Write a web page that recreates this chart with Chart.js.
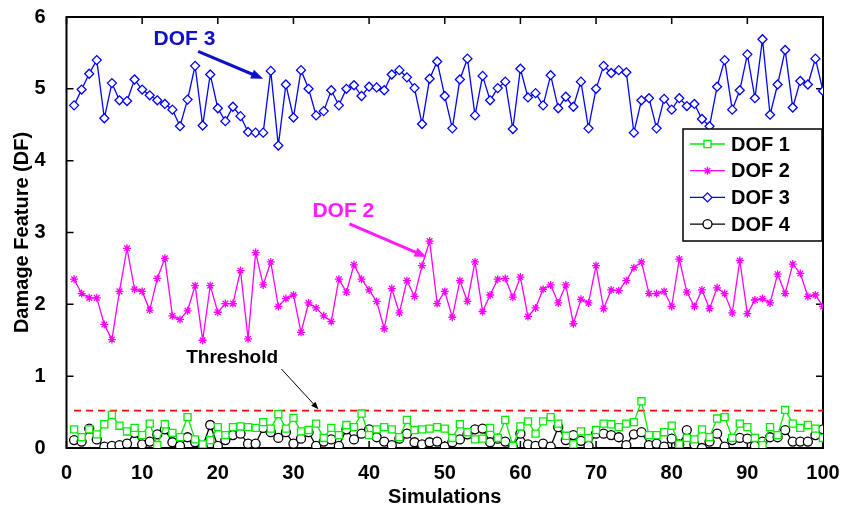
<!DOCTYPE html>
<html>
<head>
<meta charset="utf-8">
<script src="https://cdn.jsdelivr.net/npm/chart.js@4.4.1/dist/chart.umd.min.js"></script>
<style>
  html, body { margin: 0; padding: 0; background: #fff; }
</style>
</head>
<body>
<canvas id="df" width="842" height="512"></canvas>
<script>
// simulation index 1..100
const simulations = Array.from({ length: 100 }, (_, i) => i + 1);

const dof1 = [
  0.26, 0.15, 0.26, 0.19, 0.33, 0.46, 0.31, 0.23, 0.28, 0.18,
  0.34, 0.04, 0.33, 0.21, 0.15, 0.43, 0.12, 0.05, 0.11, 0.29,
  0.18, 0.29, 0.30, 0.29, 0.28, 0.36, 0.27, 0.47, 0.27, 0.42,
  0.23, 0.25, 0.34, 0.14, 0.28, 0.18, 0.32, 0.29, 0.48, 0.18,
  0.26, 0.29, 0.26, 0.15, 0.39, 0.25, 0.26, 0.27, 0.29, 0.27,
  0.14, 0.33, 0.22, 0.12, 0.13, 0.28, 0.14, 0.39, 0.03, 0.30,
  0.37, 0.20, 0.37, 0.43, 0.34, 0.17, 0.05, 0.23, 0.14, 0.25,
  0.34, 0.33, 0.29, 0.34, 0.36, 0.65, 0.18, 0.18, 0.22, 0.31,
  0.05, 0.14, 0.12, 0.26, 0.15, 0.41, 0.43, 0.14, 0.34, 0.29,
  0.14, 0.04, 0.29, 0.18, 0.53, 0.34, 0.28, 0.32, 0.27, 0.14
];

const dof2 = [
  2.35, 2.15, 2.09, 2.09, 1.72, 1.51, 2.18, 2.78, 2.21, 2.18,
  1.92, 2.36, 2.64, 1.84, 1.79, 1.91, 2.26, 1.50, 2.26, 1.89,
  2.01, 2.01, 2.47, 1.52, 2.72, 2.27, 2.59, 1.97, 2.08, 2.13,
  1.61, 2.02, 1.95, 1.84, 1.76, 2.35, 2.17, 2.55, 2.35, 2.20,
  2.04, 1.66, 2.22, 1.88, 2.33, 2.11, 2.54, 2.88, 2.01, 2.18,
  1.82, 2.33, 2.04, 2.59, 1.90, 2.13, 2.35, 2.36, 2.10, 2.38,
  1.83, 1.95, 2.21, 2.27, 2.02, 2.27, 1.73, 2.07, 2.02, 2.54,
  1.94, 2.20, 2.19, 2.33, 2.51, 2.59, 2.15, 2.15, 2.18, 1.97,
  2.63, 2.17, 1.97, 2.20, 1.94, 2.23, 2.15, 1.88, 2.61, 1.87,
  2.06, 2.08, 2.02, 2.42, 2.15, 2.56, 2.43, 2.11, 2.13, 1.97
];

const dof3 = [
  4.77, 4.99, 5.21, 5.40, 4.59, 5.08, 4.84, 4.83, 5.13, 4.99,
  4.91, 4.84, 4.79, 4.71, 4.48, 4.85, 5.32, 4.49, 5.20, 4.73,
  4.55, 4.75, 4.62, 4.40, 4.39, 4.39, 5.25, 4.21, 5.06, 4.60,
  5.26, 5.00, 4.63, 4.69, 4.98, 4.77, 5.00, 5.05, 4.90, 5.03,
  5.02, 4.98, 5.20, 5.26, 5.16, 5.01, 4.51, 5.14, 5.38, 4.90,
  4.45, 5.13, 5.42, 4.63, 5.18, 4.84, 5.01, 5.10, 4.44, 5.28,
  4.88, 4.94, 4.77, 5.19, 4.73, 4.89, 4.75, 5.10, 4.45, 5.00,
  5.32, 5.22, 5.26, 5.23, 4.39, 4.84, 4.87, 4.45, 4.86, 4.71,
  4.87, 4.76, 4.79, 4.58, 4.48, 5.03, 5.40, 4.71, 4.98, 5.48,
  4.87, 5.69, 4.64, 5.06, 5.54, 4.74, 5.11, 5.06, 5.42, 4.97
];

const dof4 = [
  0.11, 0.09, 0.27, 0.12, 0.02, 0.03, 0.04, 0.06, 0.21, 0.05,
  0.09, 0.19, 0.26, 0.08, 0.03, 0.15, 0.08, 0.02, 0.32, 0.03,
  0.11, 0.18, 0.20, 0.06, 0.06, 0.28, 0.22, 0.14, 0.22, 0.06,
  0.13, 0.22, 0.03, 0.09, 0.12, 0.03, 0.26, 0.12, 0.20, 0.26,
  0.15, 0.09, 0.04, 0.13, 0.20, 0.08, 0.05, 0.08, 0.09, 0.02,
  0.08, 0.12, 0.19, 0.26, 0.27, 0.08, 0.13, 0.09, 0.02, 0.20,
  0.05, 0.03, 0.06, 0.02, 0.29, 0.11, 0.18, 0.10, 0.03, 0.20,
  0.20, 0.18, 0.15, 0.04, 0.19, 0.22, 0.04, 0.06, 0.02, 0.13,
  0.05, 0.25, 0.05, 0.00, 0.09, 0.20, 0.02, 0.11, 0.14, 0.13,
  0.03, 0.09, 0.15, 0.15, 0.25, 0.09, 0.09, 0.09, 0.18, 0.26
];

const threshold = 0.52;
const thresholdSpan = [1, 100];

const xTicks = [0, 10, 20, 30, 40, 50, 60, 70, 80, 90, 100];
const yTicks = [0, 1, 2, 3, 4, 5, 6];

// callouts in data units: label centre, arrow tail, arrow tip
const notes = [
  { text: 'DOF 3', color: '#1010c8', at: [15.6, 5.69], from: [17.4, 5.52], to: [26.0, 5.14], width: 3, head: 13, size: 21 },
  { text: 'DOF 2', color: '#ff1aff', at: [36.6, 3.29], from: [37.4, 3.12], to: [47.6, 2.66], width: 3, head: 13, size: 21 },
  { text: 'Threshold', color: '#000000', at: [21.9, 1.25], from: [28.4, 1.10], to: [33.3, 0.54], width: 1, head: 8, size: 19 }
];

const FONT = '"Liberation Sans", Arial, sans-serif';

function points(values) {
  return values.map((v, i) => ({ x: simulations[i], y: v }));
}

function series(label, values, color, style, radius) {
  return {
    label,
    data: points(values),
    borderColor: color,
    borderWidth: 1.3,
    pointStyle: style,
    pointRadius: radius,
    pointBorderColor: color,
    pointBackgroundColor: '#ffffff',
    pointBorderWidth: 1.3,
    tension: 0,
    fill: false,
  };
}

function drawArrow(ctx, x1, y1, x2, y2, color, width, head) {
  const ang = Math.atan2(y2 - y1, x2 - x1);
  ctx.save();
  ctx.strokeStyle = color;
  ctx.fillStyle = color;
  ctx.lineWidth = width;
  ctx.beginPath();
  ctx.moveTo(x1, y1);
  ctx.lineTo(x2 - head * 0.8 * Math.cos(ang), y2 - head * 0.8 * Math.sin(ang));
  ctx.stroke();
  ctx.beginPath();
  ctx.moveTo(x2, y2);
  ctx.lineTo(x2 - head * Math.cos(ang - 0.38), y2 - head * Math.sin(ang - 0.38));
  ctx.lineTo(x2 - head * Math.cos(ang + 0.38), y2 - head * Math.sin(ang + 0.38));
  ctx.closePath();
  ctx.fill();
  ctx.restore();
}

function drawMarker(ctx, ds, x, y) {
  const r = ds.pointRadius;
  ctx.save();
  ctx.strokeStyle = ds.pointBorderColor;
  ctx.fillStyle = '#ffffff';
  ctx.lineWidth = ds.pointBorderWidth;
  ctx.beginPath();
  if (ds.pointStyle === 'rect') {
    const s = r * Math.SQRT1_2;
    ctx.rect(x - s, y - s, 2 * s, 2 * s);
    ctx.fill();
  } else if (ds.pointStyle === 'rectRot') {
    ctx.moveTo(x, y - r); ctx.lineTo(x + r, y); ctx.lineTo(x, y + r); ctx.lineTo(x - r, y);
    ctx.closePath();
    ctx.fill();
  } else if (ds.pointStyle === 'circle') {
    ctx.arc(x, y, r, 0, Math.PI * 2);
    ctx.fill();
  } else {
    for (let k = 0; k < 4; k++) {
      const a = k * Math.PI / 4;
      ctx.moveTo(x - r * Math.cos(a), y - r * Math.sin(a));
      ctx.lineTo(x + r * Math.cos(a), y + r * Math.sin(a));
    }
  }
  ctx.stroke();
  ctx.restore();
}

// box round the plot with ticks pointing inwards
const framePlugin = {
  id: 'frame',
  beforeDatasetsDraw(chart) {
    const { ctx, chartArea: a, scales } = chart;
    const len = 7;
    ctx.save();
    ctx.strokeStyle = '#000';
    ctx.lineWidth = 1.5;
    ctx.beginPath();
    xTicks.forEach((t) => {
      const px = scales.x.getPixelForValue(t);
      ctx.moveTo(px, a.bottom); ctx.lineTo(px, a.bottom - len);
      ctx.moveTo(px, a.top); ctx.lineTo(px, a.top + len);
    });
    yTicks.forEach((t) => {
      const py = scales.y.getPixelForValue(t);
      ctx.moveTo(a.left, py); ctx.lineTo(a.left + len, py);
      ctx.moveTo(a.right, py); ctx.lineTo(a.right - len, py);
    });
    ctx.stroke();
    ctx.lineWidth = 2;
    ctx.strokeRect(a.left, a.top, a.right - a.left, a.bottom - a.top);
    ctx.restore();
  },
  afterDatasetsDraw(chart) {
    const { ctx, chartArea: a, scales } = chart;

    notes.forEach((n) => {
      const px = (v) => scales.x.getPixelForValue(v);
      const py = (v) => scales.y.getPixelForValue(v);
      ctx.save();
      ctx.font = 'bold ' + n.size + 'px ' + FONT;
      ctx.fillStyle = n.color;
      ctx.textAlign = 'center';
      ctx.textBaseline = 'middle';
      ctx.fillText(n.text, px(n.at[0]), py(n.at[1]));
      ctx.restore();
      drawArrow(ctx, px(n.from[0]), py(n.from[1]), px(n.to[0]), py(n.to[1]), n.color, n.width, n.head);
    });

    // legend box, upper right inside the axes
    const boxW = 139, boxH = 112;
    const left = a.right - 1 - boxW, top = a.top + 112;
    ctx.save();
    ctx.fillStyle = '#fff';
    ctx.fillRect(left, top, boxW, boxH);
    ctx.strokeStyle = '#000';
    ctx.lineWidth = 1.5;
    ctx.strokeRect(left, top, boxW, boxH);
    chart.data.datasets.slice(0, 4).forEach((ds, i) => {
      const y = top + 15 + i * 26.7;
      ctx.strokeStyle = ds.borderColor;
      ctx.lineWidth = 1.3;
      ctx.beginPath();
      ctx.moveTo(left + 7, y);
      ctx.lineTo(left + 42, y);
      ctx.stroke();
      drawMarker(ctx, ds, left + 24.5, y);
      ctx.fillStyle = '#000';
      ctx.font = 'bold 20px ' + FONT;
      ctx.textBaseline = 'middle';
      ctx.fillText(ds.label, left + 48, y + 1);
    });
    ctx.restore();
  }
};

const chart = new Chart(document.getElementById('df'), {
  type: 'line',
  data: {
    datasets: [
      series('DOF 1', dof1, '#00ee00', 'rect', 5),
      series('DOF 2', dof2, '#ff00ff', 'star', 4),
      series('DOF 3', dof3, '#0000ff', 'rectRot', 4.5),
      series('DOF 4', dof4, '#000000', 'circle', 4.5),
      {
        label: 'Threshold',
        data: thresholdSpan.map((x) => ({ x, y: threshold })),
        borderColor: '#ff0000',
        borderWidth: 1.6,
        borderDash: [7, 5],
        pointRadius: 0,
        tension: 0,
        fill: false,
      },
    ],
  },
  options: {
    responsive: false,
    devicePixelRatio: 1,
    animation: false,
    layout: { padding: { left: 8, top: 17, right: 19, bottom: 1 } },
    plugins: { legend: { display: false }, tooltip: { enabled: false } },
    scales: {
      x: {
        type: 'linear',
        min: 0,
        max: 100,
        afterFit: (s) => {
          s.height = 63;
          s.paddingLeft = 0;
          s.paddingRight = 0;
        },
        afterBuildTicks: (s) => { s.ticks = xTicks.map((v) => ({ value: v })); },
        grid: { display: false },
        border: { display: false },
        ticks: {
          autoSkip: false,
          maxRotation: 0,
          padding: 5,
          color: '#000',
          font: { family: FONT, size: 20, weight: 'bold' },
        },
        title: {
          display: true,
          text: 'Simulations',
          color: '#000',
          padding: { top: 0, bottom: 2 },
          font: { family: FONT, size: 20, weight: 'bold' },
        },
      },
      y: {
        min: 0,
        max: 6,
        afterFit: (s) => {
          s.width = 58.5;
          s.paddingTop = 0;
          s.paddingBottom = 0;
        },
        afterBuildTicks: (s) => { s.ticks = yTicks.map((v) => ({ value: v })); },
        grid: { display: false },
        border: { display: false },
        ticks: {
          padding: 13,
          color: '#000',
          font: { family: FONT, size: 20, weight: 'bold' },
        },
        title: {
          display: true,
          text: 'Damage Feature (DF)',
          color: '#000',
          padding: { top: 2, bottom: 0 },
          font: { family: FONT, size: 20, weight: 'bold' },
        },
      },
    },
  },
  plugins: [framePlugin],
});
</script>
</body>
</html>
